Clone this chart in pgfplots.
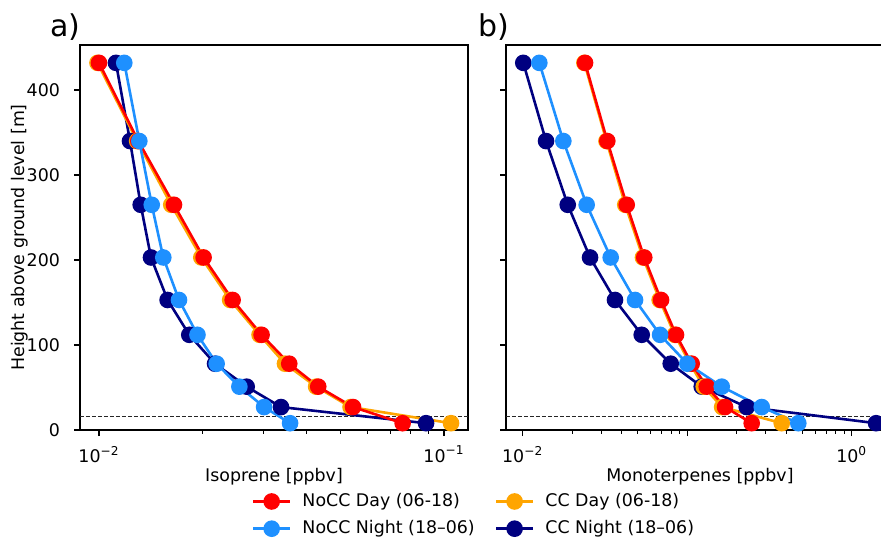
\documentclass[border=0pt]{standalone}
\usepackage{fontspec}
\setmainfont{DejaVu Sans}
\usepackage{pgfplots}
\usepackage{pgfplotstable}
\pgfplotsset{compat=1.18}
\definecolor{cred}{RGB}{255,0,0}
\definecolor{corange}{RGB}{255,165,0}
\definecolor{clb}{RGB}{30,144,255}
\definecolor{cnavy}{RGB}{0,0,128}
\newcommand{\fs}{\fontsize{8.7pt}{10.4pt}\selectfont}
\newcommand{\tp}[1]{10\textsuperscript{#1}}

\pgfplotstableread{
h     red     orange  lb       navy
432   0.0100  0.0099  0.01184  0.0112
340   0.0130  0.0129  0.01309  0.0123
265   0.0165  0.0162  0.01422  0.01321
203   0.0201  0.0198  0.01536  0.01415
153   0.0244  0.0240  0.01706  0.01581
112   0.0296  0.0292  0.0193   0.01827
78    0.0356  0.0346  0.02193  0.0217
51    0.0432  0.0426  0.02552  0.0268
27    0.0545  0.0536  0.0301   0.0337
8     0.0759  0.1048  0.0358   0.0887
}\isoprene

\pgfplotstableread{
h     red     orange  lb       navy
432   0.02393 0.0237  0.01262  0.01008
340   0.03268 0.0323  0.01766  0.01386
265   0.04288 0.0420  0.02448  0.01878
203   0.0548  0.0538  0.03426  0.02566
153   0.06934 0.0680  0.04817  0.0364
112   0.0855  0.0840  0.0684   0.0529
78    0.1065  0.1040  0.1001   0.0794
51    0.1314  0.1260  0.1621   0.1225
27    0.1698  0.1630  0.2838   0.2299
8     0.2466  0.3754  0.4735   1.406
}\monoterp

\tikzset{ser/.style={line width=1.3pt, mark=*, mark size=3.5pt, mark options={solid}}}

\pgfplotsset{
  every axis/.append style={
    xmode=log, scale only axis, width=194pt, height=192.5pt,
    ymin=0, ymax=453, ytick={0,100,200,300,400},
    tick align=outside, tick pos=left,
    major tick length=3pt, minor tick length=1.8pt,
    axis line style={line width=0.7pt},
    every tick/.style={black, line width=0.6pt},
    tick label style={font=\fs},
    yticklabel style={xshift=-3.5pt},
    xticklabel style={yshift=-1.5pt},
    label style={font=\fs},
    /pgf/number format/assume math mode=true,
    xlabel style={at={(axis description cs:0.5,-0.135)}, anchor=base},
  },
}

\begin{document}
\begin{tikzpicture}
\path[use as bounding box, clip] (0,0) rectangle (440.5pt,268.5pt);

% panel a
\begin{axis}[at={(40pt,53.5pt)}, anchor=south west,
  xmin=0.008810, xmax=0.11737,
  xtick={0.01,0.1}, xticklabels={\tp{−2},\tp{−1}},
  xlabel={Isoprene [ppbv]},
  ylabel={Height above ground level [m]},
  ylabel style={at={(axis description cs:-0.155,0.5)}, anchor=center},
  legend columns=2, legend cell align=left,
  legend image code/.code={\draw[mark repeat=2,mark phase=2,#1] plot coordinates {(0pt,0pt) (9.25pt,0pt) (18.5pt,0pt)};},
  legend style={draw=none, fill=none, at={(1.018,-0.221)}, anchor=center, font=\fs,
    row sep=1.5pt,
    /tikz/every odd column/.append style={column sep=3.5pt},
    /tikz/every even column/.append style={column sep=8pt}},
]
\addlegendimage{ser, cred}\addlegendentry{NoCC Day (06-18)}
\addlegendimage{ser, corange}\addlegendentry{CC Day (06-18)}
\addlegendimage{ser, clb}\addlegendentry{NoCC Night (18–06)}
\addlegendimage{ser, cnavy}\addlegendentry{CC Night (18–06)}
\addplot[black!85, line width=0.5pt, dash pattern=on 2pt off 1pt, forget plot] coordinates {(0.0088,16) (0.118,16)};
\addplot[ser, cnavy, forget plot] table[x=navy, y=h] {\isoprene};
\addplot[ser, corange, forget plot] table[x=orange, y=h] {\isoprene};
\addplot[ser, cred, forget plot] table[x=red, y=h] {\isoprene};
\addplot[ser, clb, forget plot] table[x=lb, y=h] {\isoprene};
\end{axis}

% panel b
\begin{axis}[at={(253pt,53.5pt)}, anchor=south west,
  xmin=0.007916, xmax=1.8078,
  xtick={0.01,0.1,1}, xticklabels={\tp{−2},,\tp{0}},
  yticklabels={},
  xlabel={Monoterpenes [ppbv]},
]
\addplot[black!85, line width=0.5pt, dash pattern=on 2pt off 1pt, forget plot] coordinates {(0.0079,16) (1.81,16)};
\addplot[ser, cnavy, forget plot] table[x=navy, y=h] {\monoterp};
\addplot[ser, corange, forget plot] table[x=orange, y=h] {\monoterp};
\addplot[ser, cred, forget plot] table[x=red, y=h] {\monoterp};
\addplot[ser, clb, forget plot] table[x=lb, y=h] {\monoterp};
\end{axis}

\node[anchor=base west, font=\fontsize{15pt}{18pt}\selectfont, inner sep=0pt] at (25pt,250.5pt) {a)};
\node[anchor=base west, font=\fontsize{15pt}{18pt}\selectfont, inner sep=0pt] at (239pt,250.5pt) {b)};
\end{tikzpicture}
\end{document}
